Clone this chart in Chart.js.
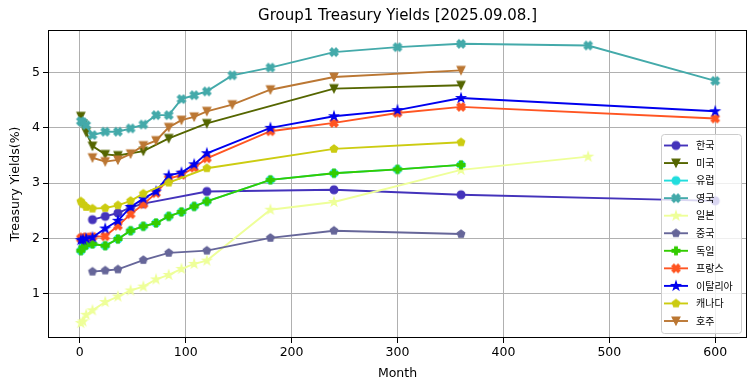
<!DOCTYPE html>
<html><head><meta charset="utf-8">
<script src="https://cdn.jsdelivr.net/npm/chart.js@4"></script>
<style>html,body{margin:0;padding:0;background:#fff}#wrap{width:755px;height:391px;position:relative}</style>
</head><body><div id="wrap"><canvas id="c" width="755" height="391"></canvas></div>
<script>
// ---- data (months to maturity, yields %) ----
const seriesNames = ['한국','미국','유럽','영국','일본','중국','독일','프랑스','이탈리아','캐나다','호주'];
const krMonths = [12,24,36,48,60,120,240,360,600];
const krYields = [2.34,2.40,2.46,2.56,2.63,2.85,2.88,2.79,2.68];
const usMonths = [1,3,6,12,24,36,60,84,120,240,360];
const usYields = [4.21,4.07,3.92,3.67,3.52,3.50,3.58,3.81,4.08,4.71,4.77];
const euMonths = [1,3,6,12,24,36,48,60,72,84,96,108,120,180,240,300,360];
const euYields = [1.78,1.84,1.88,1.90,1.87,1.99,2.14,2.22,2.28,2.40,2.48,2.58,2.67,3.06,3.18,3.25,3.33];
const ukMonths = [1,3,6,12,24,36,48,60,72,84,96,108,120,144,180,240,300,360,480,600];
const ukYields = [4.12,4.10,4.05,3.87,3.93,3.93,3.99,4.06,4.23,4.23,4.52,4.59,4.66,4.95,5.09,5.37,5.46,5.52,5.49,4.85];
const jpMonths = [1,3,6,12,24,36,48,60,72,84,96,108,120,180,240,360,480];
const jpYields = [0.47,0.50,0.62,0.70,0.85,0.95,1.06,1.13,1.26,1.34,1.45,1.54,1.60,2.52,2.66,3.24,3.48];
const cnMonths = [12,24,36,60,84,120,180,240,360];
const cnYields = [1.40,1.42,1.44,1.61,1.74,1.78,2.01,2.14,2.08];
const deMonths = [1,3,6,12,24,36,48,60,72,84,96,108,120,180,240,300,360];
const deYields = [1.78,1.84,1.88,1.90,1.87,1.99,2.14,2.22,2.28,2.40,2.48,2.58,2.67,3.06,3.18,3.25,3.33];
const frMonths = [1,3,6,12,24,36,48,60,72,84,96,108,120,180,240,300,360,600];
const frYields = [2.00,2.02,2.02,2.03,2.04,2.23,2.44,2.62,2.82,3.08,3.15,3.28,3.45,3.94,4.09,4.27,4.38,4.17];
const itMonths = [1,3,6,12,24,36,48,60,72,84,96,108,120,180,240,300,360,600];
const itYields = [1.97,1.98,2.00,2.02,2.18,2.32,2.57,2.72,2.85,3.14,3.19,3.34,3.54,4.00,4.21,4.32,4.54,4.30];
const caMonths = [1,3,6,12,24,36,48,60,84,120,240,360];
const caYields = [2.67,2.62,2.57,2.54,2.55,2.60,2.68,2.81,3.01,3.27,3.62,3.74];
const auMonths = [12,24,36,48,60,72,84,96,108,120,144,180,240,360];
const auYields = [3.46,3.39,3.42,3.53,3.68,3.77,4.01,4.14,4.20,4.30,4.42,4.69,4.92,5.04];
const xTicks = [0,100,200,300,400,500,600];
const yTicks = [1,2,3,4,5];

const seriesMonths = [krMonths,usMonths,euMonths,ukMonths,jpMonths,cnMonths,deMonths,frMonths,itMonths,caMonths,auMonths];
const seriesYields = [krYields,usYields,euYields,ukYields,jpYields,cnYields,deYields,frYields,itYields,caYields,auYields];
const seriesColors = ['#4433bb','#556600','#22dddd','#44aaaa','#eeff99','#666699','#33cc00','#ff5522','#0000ee','#cccc11','#bb7733'];
const seriesMarkers = ['circle','triDown','circle','X','star','pentagon','plus','X','star','pentagon','triDown'];

// ---- marker images ----
function markerCanvas(shape, color){
  const S = 18, c = document.createElement('canvas');
  c.width = S; c.height = S;
  const g = c.getContext('2d');
  const cx = S/2, cy = S/2, r = 3.9;
  g.fillStyle = color; g.strokeStyle = color; g.lineWidth = 1.2; g.lineJoin = 'miter';
  g.beginPath();
  if (shape === 'circle') {
    g.arc(cx, cy, r, 0, Math.PI*2);
  } else if (shape === 'triDown') {
    g.moveTo(cx, cy + r); g.lineTo(cx - r, cy - r); g.lineTo(cx + r, cy - r);
  } else if (shape === 'pentagon' || shape === 'star') {
    const n = 5, rr = shape === 'star' ? r*1.15 : r;
    const pts = shape === 'star' ? 10 : 5;
    for (let i = 0; i < pts; i++) {
      const a = -Math.PI/2 + i*2*Math.PI/pts;
      const rad = (shape === 'star' && i % 2) ? rr*0.382 : rr;
      const px = cx + rad*Math.cos(a), py = cy + rad*Math.sin(a);
      i ? g.lineTo(px, py) : g.moveTo(px, py);
    }
  } else if (shape === 'plus' || shape === 'X') {
    const u = r/3;
    const P = [[-1,-3],[1,-3],[1,-1],[3,-1],[3,1],[1,1],[1,3],[-1,3],[-1,1],[-3,1],[-3,-1],[-1,-1]];
    const ang = shape === 'X' ? Math.PI/4 : 0;
    const sc = shape === 'X' ? 1.12 : 1;
    P.forEach((p, i) => {
      const x = p[0]*u*sc, y = p[1]*u*sc;
      const px = cx + x*Math.cos(ang) - y*Math.sin(ang);
      const py = cy + x*Math.sin(ang) + y*Math.cos(ang);
      i ? g.lineTo(px, py) : g.moveTo(px, py);
    });
  }
  g.closePath(); g.fill(); g.stroke();
  return c;
}
const markerImgs = seriesMarkers.map((m, i) => markerCanvas(m, seriesColors[i]));

const n = seriesNames.length;
const datasets = seriesNames.map((name, i) => ({
  label: name,
  data: seriesMonths[i].map((m, k) => ({x: m, y: seriesYields[i][k]})),
  borderColor: seriesColors[i],
  backgroundColor: seriesColors[i],
  borderWidth: 1.9,
  pointStyle: markerImgs[i],
  pointRadius: 4,
  tension: 0,
  order: n - i
}));

// ---- frame + legend plugin ----
const framePlugin = {
  id: 'frame',
  afterDatasetsDraw(chart) {
    const {ctx, chartArea: a} = chart;
    ctx.save();
    ctx.strokeStyle = '#000'; ctx.lineWidth = 1;
    ctx.strokeRect(Math.round(a.left) + 0.5, Math.round(a.top) + 0.5, Math.round(a.right - a.left) - 1, Math.round(a.bottom - a.top) - 1);
    // legend
    const bx = 661.5, by = 134.5, bw = 80, bh = 199, rad = 3;
    ctx.beginPath();
    ctx.moveTo(bx + rad, by); ctx.lineTo(bx + bw - rad, by); ctx.quadraticCurveTo(bx + bw, by, bx + bw, by + rad);
    ctx.lineTo(bx + bw, by + bh - rad); ctx.quadraticCurveTo(bx + bw, by + bh, bx + bw - rad, by + bh);
    ctx.lineTo(bx + rad, by + bh); ctx.quadraticCurveTo(bx, by + bh, bx, by + bh - rad);
    ctx.lineTo(bx, by + rad); ctx.quadraticCurveTo(bx, by, bx + rad, by);
    ctx.closePath();
    ctx.fillStyle = 'rgba(255,255,255,0.8)'; ctx.fill();
    ctx.strokeStyle = '#cccccc'; ctx.stroke();
    ctx.font = '10px "Noto Sans CJK KR", "Noto Sans", sans-serif';
    ctx.textBaseline = 'middle'; ctx.textAlign = 'left'; ctx.fillStyle = '#000';
    seriesNames.forEach((name, i) => {
      const y = 145.5 + i*17.55;
      ctx.strokeStyle = seriesColors[i]; ctx.lineWidth = 1.9;
      ctx.beginPath(); ctx.moveTo(664, y); ctx.lineTo(688, y); ctx.stroke();
      const img = markerImgs[i];
      ctx.drawImage(img, 676 - img.width/2, y - img.height/2);
      ctx.fillStyle = '#000';
      ctx.fillText(name, 696, y);
    });
    ctx.restore();
  }
};

const font = {family: '"DejaVu Sans", sans-serif', size: 12.5};
new Chart(document.getElementById('c'), {
  type: 'line',
  data: {datasets},
  plugins: [framePlugin],
  options: {
    responsive: false, animation: false, devicePixelRatio: 1,
    layout: {padding: {left: 0, right: 8, top: 0, bottom: 0}},
    events: [],
    plugins: {
      legend: {display: false}, tooltip: {enabled: false},
      title: {display: true, text: 'Group1 Treasury Yields [2025.09.08.]', fullSize: false,
        color: '#000', font: {family: '"DejaVu Sans", sans-serif', size: 15, weight: 'normal'},
        padding: {top: 7, bottom: 5}}
    },
    scales: {
      x: {
        type: 'linear', min: -30, max: 630,
        afterBuildTicks: s => { s.ticks = xTicks.map(v => ({value: v})); },
        afterFit: s => { s.height = 53; },
        ticks: {color: '#000', font, padding: 2, maxRotation: 0, autoSkip: false},
        grid: {color: '#b0b0b0', lineWidth: 1, tickColor: '#000', tickLength: 5, drawTicks: true},
        border: {display: false},
        title: {display: true, text: 'Month', color: '#000', font, padding: {top: 0, bottom: 10}}
      },
      y: {
        type: 'linear', min: 0.2, max: 5.77,
        afterBuildTicks: s => { s.ticks = yTicks.map(v => ({value: v})); },
        afterFit: s => { s.width = 48; },
        ticks: {color: '#000', font, padding: 3, autoSkip: false},
        grid: {color: '#b0b0b0', lineWidth: 1, tickColor: '#000', tickLength: 5, drawTicks: true},
        border: {display: false},
        title: {display: true, text: 'Treasury Yields(%)', color: '#000', font, padding: {top: 8, bottom: 0}}
      }
    }
  }
});
</script></body></html>
